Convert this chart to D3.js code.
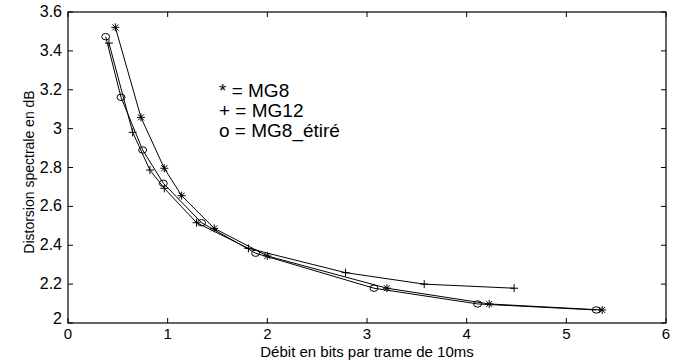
<!DOCTYPE html>
<html><head><meta charset="utf-8">
<script src="https://cdn.jsdelivr.net/npm/d3@7"></script>
<style>body{margin:0;background:#fff}svg{display:block}text{font-family:"Liberation Sans",Arial,sans-serif;fill:#000}</style>
</head><body><svg id="c" width="680" height="360"></svg>
<script>
const xTicks = [0,1,2,3,4,5,6];
const yTicks = [2,2.2,2.4,2.6,2.8,3,3.2,3.4,3.6];
const mg8X = [0.475,0.732,0.966,1.14,1.467,2.0,3.2,4.226,5.36];
const mg8Y = [3.521,3.058,2.796,2.655,2.487,2.345,2.179,2.098,2.067];
const mg12X = [0.411,0.649,0.822,0.966,1.29,1.81,2.785,3.574,4.476];
const mg12Y = [3.44,2.981,2.787,2.693,2.516,2.384,2.259,2.2,2.179];
const etX = [0.378,0.532,0.749,0.956,1.34,1.883,3.07,4.11,5.30];
const etY = [3.473,3.161,2.890,2.719,2.516,2.359,2.179,2.098,2.067];
const legendSymbols = ["*","+","o"];
const legendLabels = ["= MG8","= MG12","= MG8_étiré"];
const xLabel = "Débit en bits par trame de 10ms";
const yLabel = "Distorsion spectrale en dB";

const svg = d3.select("#c");
const L=68,R=666,T=12,B=323;
const x = d3.scaleLinear().domain([0,6]).range([L,R]);
const y = d3.scaleLinear().domain([2,3.6]).range([B,T]);

svg.append("rect").attr("x",L).attr("y",T).attr("width",R-L).attr("height",B-T)
  .attr("fill","none").attr("stroke","#000").attr("stroke-width",1.2);

const tl=5;
xTicks.forEach(t=>{
  svg.append("line").attr("x1",x(t)).attr("x2",x(t)).attr("y1",B).attr("y2",B-tl).attr("stroke","#000");
  svg.append("line").attr("x1",x(t)).attr("x2",x(t)).attr("y1",T).attr("y2",T+tl).attr("stroke","#000");
  svg.append("text").attr("x",x(t)).attr("y",B+16).attr("text-anchor","middle").attr("font-size",15).text(t);
});
yTicks.forEach(t=>{
  svg.append("line").attr("x1",L).attr("x2",L+tl).attr("y1",y(t)).attr("y2",y(t)).attr("stroke","#000");
  svg.append("line").attr("x1",R).attr("x2",R-tl).attr("y1",y(t)).attr("y2",y(t)).attr("stroke","#000");
  svg.append("text").attr("x",L-6).attr("y",y(t)+(t===2?1:5)).attr("text-anchor","end").attr("font-size",16).text(d3.format("~g")(t));
});

svg.append("text").attr("x",367).attr("y",357).attr("text-anchor","middle").attr("font-size",15).text(xLabel);
svg.append("text").attr("transform","translate(34,172) rotate(-90)").attr("text-anchor","middle").attr("font-size",14).text(yLabel);

const line = d3.line().x(d=>x(d[0])).y(d=>y(d[1]));
const series = [
  {xs:mg8X, ys:mg8Y, m:"star"},
  {xs:mg12X, ys:mg12Y, m:"plus"},
  {xs:etX, ys:etY, m:"circle"}
];
function marker(g,px,py,m,s){
  if(m==="circle"){
    g.append("ellipse").attr("cx",px).attr("cy",py).attr("rx",s).attr("ry",s*0.8).attr("fill","none").attr("stroke","#000");
  } else {
    g.append("line").attr("x1",px-s).attr("x2",px+s).attr("y1",py).attr("y2",py).attr("stroke","#000");
    g.append("line").attr("x1",px).attr("x2",px).attr("y1",py-s).attr("y2",py+s).attr("stroke","#000");
    if(m==="star"){
      const d=s*0.75;
      g.append("line").attr("x1",px-d).attr("x2",px+d).attr("y1",py-d).attr("y2",py+d).attr("stroke","#000");
      g.append("line").attr("x1",px-d).attr("x2",px+d).attr("y1",py+d).attr("y2",py-d).attr("stroke","#000");
    }
  }
}
series.forEach(s=>{
  const pts = s.xs.map((v,i)=>[v,s.ys[i]]);
  svg.append("path").attr("d",line(pts)).attr("fill","none").attr("stroke","#000").attr("stroke-width",1);
  const g = svg.append("g");
  pts.forEach(p=>marker(g,x(p[0]),y(p[1]),s.m,4));
});

const lg = svg.append("g");
legendLabels.forEach((t,i)=>{
  lg.append("text").attr("x",219).attr("y",97+i*20).attr("font-size",19).text(legendSymbols[i]+" "+t);
});
</script></body></html>
